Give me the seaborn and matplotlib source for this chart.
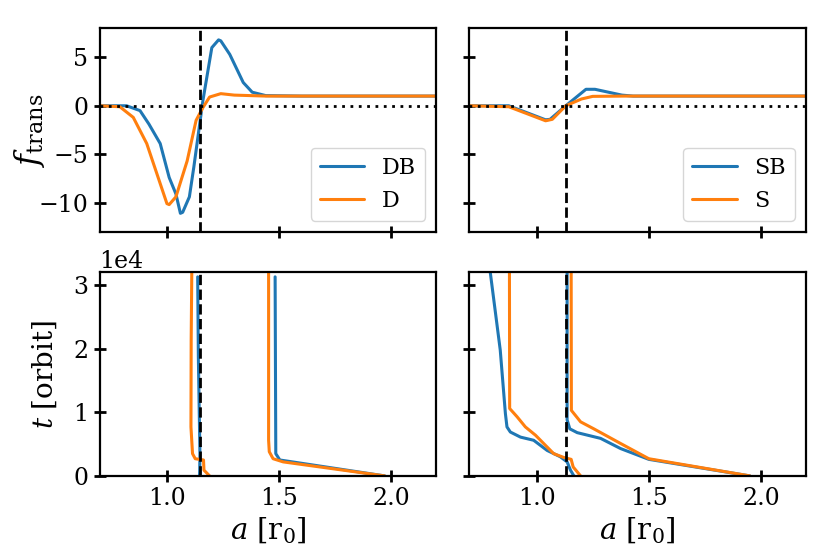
import numpy as np
import pandas as pd
import matplotlib
matplotlib.use("Agg")
import matplotlib.pyplot as plt
import seaborn as sns

# ---- top row: f_trans vs a
a_DB = [0.70, 0.82, 0.88, 0.92, 0.97, 1.01, 1.04, 1.06, 1.07, 1.10, 1.12, 1.14, 1.16, 1.20, 1.23, 1.24, 1.28, 1.34, 1.38, 1.44, 1.60, 2.20]
f_DB = [0.0, 0.0, -0.5, -1.9, -3.9, -7.4, -9.1, -11.1, -11.0, -9.4, -6.3, -2.9, 0.5, 6.0, 6.8, 6.7, 5.3, 2.4, 1.4, 1.05, 1.0, 1.0]
a_D = [0.70, 0.79, 0.85, 0.91, 1.00, 1.01, 1.04, 1.09, 1.13, 1.16, 1.19, 1.24, 1.30, 1.44, 1.60, 2.20]
f_D = [0.0, -0.1, -1.2, -3.9, -10.1, -10.2, -9.4, -5.7, -1.5, -0.2, 0.9, 1.25, 1.1, 1.0, 1.0, 1.0]

a_SB = [0.70, 0.876, 1.04, 1.06, 1.13, 1.22, 1.26, 1.38, 1.43, 1.60, 2.20]
f_SB = [0.0, 0.0, -1.45, -1.4, 0.0, 1.7, 1.7, 1.1, 1.0, 1.0, 1.0]
a_S = [0.70, 0.876, 1.04, 1.07, 1.13, 1.20, 1.25, 1.40, 2.20]
f_S = [0.0, -0.1, -1.55, -1.4, 0.0, 0.7, 0.97, 1.0, 1.0]

# ---- bottom row: migration tracks t vs a
t_DB_in = [0, 900, 3500, 18700, 31300]
a_DB_in = [1.145, 1.146, 1.147, 1.140, 1.137]
t_D_in = [0, 900, 2500, 2700, 3500, 7700, 21300, 33000]
a_D_in = [1.19, 1.165, 1.163, 1.126, 1.114, 1.107, 1.108, 1.111]
t_DB_out = [0, 2500, 3500, 31300]
a_DB_out = [1.97, 1.503, 1.485, 1.482]
t_D_out = [0, 2200, 2700, 3800, 5600, 33000]
a_D_out = [1.97, 1.518, 1.473, 1.456, 1.453, 1.453]

t_SB_in = [0, 900, 2200, 3000, 4000, 5600, 6100, 6900, 7700, 9800, 19800, 33000]
a_SB_in = [1.166, 1.151, 1.136, 1.106, 1.047, 0.987, 0.928, 0.883, 0.868, 0.861, 0.838, 0.790]
t_S_in = [0, 1400, 2600, 2900, 3500, 6400, 7700, 9300, 10600, 33000]
a_S_in = [1.196, 1.163, 1.154, 1.121, 1.076, 0.995, 0.950, 0.913, 0.880, 0.879]
t_SB_out = [0, 2600, 4300, 5900, 6800, 7400, 8800, 33000]
a_SB_out = [1.95, 1.50, 1.374, 1.285, 1.181, 1.148, 1.136, 1.136]
t_S_out = [0, 2700, 5100, 7400, 8500, 10300, 33000]
a_S_out = [1.95, 1.50, 1.374, 1.255, 1.196, 1.155, 1.154]

a_res_left = 1.146
a_res_right = 1.129

sns.set_style("ticks", {"axes.edgecolor": "black", "xtick.color": "black",
                        "ytick.color": "black", "text.color": "black",
                        "axes.labelcolor": "black"})
plt.rcParams['font.family'] = ['DejaVu Serif']
plt.rcParams['mathtext.fontset'] = 'dejavuserif'
plt.rcParams['font.size'] = 17
plt.rcParams['xtick.labelsize'] = 17
plt.rcParams['ytick.labelsize'] = 17
plt.rcParams['axes.linewidth'] = 1.6

blue = "#1f77b4"
orange = "#ff7f0e"

fig, axes = plt.subplots(2, 2, figsize=(8.3, 5.54), dpi=100, sharex=True, sharey='row')
fig.subplots_adjust(left=0.12, right=0.971, top=0.949, bottom=0.141, wspace=0.098, hspace=0.2)


def track(ax, x, y, c, label=None):
    sns.lineplot(x=x, y=y, ax=ax, color=c, lw=2.2, sort=False, estimator=None, label=label)


track(axes[0, 0], a_DB, f_DB, blue, "DB")
track(axes[0, 0], a_D, f_D, orange, "D")
track(axes[0, 1], a_SB, f_SB, blue, "SB")
track(axes[0, 1], a_S, f_S, orange, "S")

for a, t, c in [(a_DB_in, t_DB_in, blue), (a_D_in, t_D_in, orange),
                (a_DB_out, t_DB_out, blue), (a_D_out, t_D_out, orange)]:
    track(axes[1, 0], a, t, c)
for a, t, c in [(a_SB_in, t_SB_in, blue), (a_S_in, t_S_in, orange),
                (a_SB_out, t_SB_out, blue), (a_S_out, t_S_out, orange)]:
    track(axes[1, 1], a, t, c)

for ax in axes[0]:
    ax.axhline(0, color="k", ls=(0, (1, 2)), lw=2)
    ax.legend(loc="lower right", fontsize=16)
for ax in axes[:, 0]:
    ax.axvline(a_res_left, color="k", ls="--", lw=2)
for ax in axes[:, 1]:
    ax.axvline(a_res_right, color="k", ls="--", lw=2)

axes[0, 0].set_ylim(-13, 8)
axes[0, 0].set_yticks([-10, -5, 0, 5])
axes[1, 0].set_ylim(0, 3.2e4)
axes[1, 0].set_yticks([0, 1e4, 2e4, 3e4])
axes[1, 0].ticklabel_format(axis="y", style="sci", scilimits=(0, 0))
axes[0, 0].set_xlim(0.7, 2.2)
axes[0, 0].set_xticks([1.0, 1.5, 2.0])

for ax in axes.flat:
    ax.tick_params(direction="inout", length=9, width=2, labelsize=17, colors="black")
    ax.set_xlabel("")
    ax.set_ylabel("")

axes[0, 0].set_ylabel(r"$f_{\rm trans}$", fontsize=23)
axes[0, 0].yaxis.set_label_coords(-0.155, 0.5)
axes[1, 0].set_ylabel(r"$t$ [orbit]", fontsize=20)
axes[1, 0].yaxis.set_label_coords(-0.12, 0.5)
for ax in axes[1]:
    ax.set_xlabel(r"$a$ [r$_0$]", fontsize=21)

fig.savefig("out.png", dpi=100)
